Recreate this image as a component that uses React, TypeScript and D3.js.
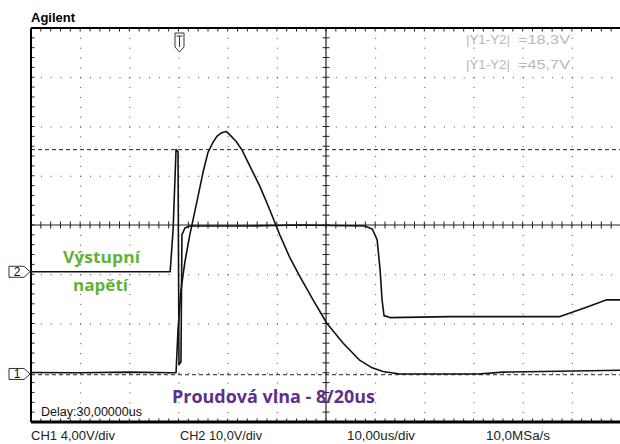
import React from 'react';
import * as d3 from 'd3';

// ---- data read from the screen capture ----
// time in us (10 us/div, delay 30 us), CH1 in V (4 V/div), CH2 in V (10 V/div)
const timeDomain = [-30, 90];
const ch1Domain = [-3.9, 28.1];
const ch2Domain = [-30.5, 49.5];

const ch1Time = [-30, -20, -10, -1.5, -0.5, -0.1, 0.5, 1.3, 2.3, 3.8, 5.0, 6.0, 7.0, 7.8, 8.8, 9.7, 10.5, 11.7, 12.9, 14.5, 16.6, 18.6, 20.6, 22.7, 24.7, 27.4, 30.2, 33.5, 36.9, 39.4, 41.6, 45, 61, 66, 74, 90];
const ch1Volts = [0.12, 0.1, 0.15, 0.1, 0.1, 3.6, 6.8, 9.1, 11.3, 14.1, 16.4, 18.0, 18.8, 19.3, 19.6, 19.7, 19.4, 18.9, 18.2, 16.9, 15.2, 13.3, 11.3, 9.4, 7.9, 6.0, 4.1, 2.5, 1.1, 0.5, 0.2, 0.0, 0.0, 0.15, 0.2, 0.3];

const ch2Time = [-30, -1.7, -1.1, -0.5, -0.1, 0.1, 0.5, 0.7, 1.3, 2.3, 14.5, 24.7, 37.9, 39.4, 40.4, 41.0, 41.4, 41.8, 43.0, 55.2, 77.6, 82.7, 87.1, 90];
const ch2Volts = [0, 0, 8.5, 24.8, 24.4, -18.9, -18.3, 7.5, 8.9, 9.3, 9.3, 9.5, 9.3, 8.7, 6.5, 0.4, -5.7, -8.9, -9.3, -9.1, -9.1, -7.3, -5.7, -5.7];

// cursors on CH2
const cursorY1 = 24.8;
const cursorY2 = -20.9;

const readouts = ['=18,3V', '=45,7V'];
const footer = ['CH1 4,00V/div', 'CH2 10,0V/div', '10,00us/div', '10,0MSa/s'];
const footerX = [31, 180, 347, 486];
const footerW = [84, 82, 68, 64];

const L = 31, T = 28, R = 621, B = 422;

export default function App() {
  const x = d3.scaleLinear().domain(timeDomain).range([L, R]);
  const y1 = d3.scaleLinear().domain(ch1Domain).range([B, T]);
  const y2 = d3.scaleLinear().domain(ch2Domain).range([B, T]);
  const div = d3.scaleLinear().domain([-4, 4]).range([B, T]);
  const dv = (R - L) / 12;
  const dh = (B - T) / 8;

  const line = d3.line<[number, number]>().x(d => d[0]).y(d => d[1]);
  const p1 = line(ch1Time.map((t, i) => [x(t), y1(ch1Volts[i])]));
  const p2 = line(ch2Time.map((t, i) => [x(t), y2(ch2Volts[i])]));

  const xDivs = d3.range(-30, 91, 10);
  const yDivs = d3.range(-4, 5, 1);
  const minorX = d3.range(L, R + 0.1, dv / 5);
  const minorY = d3.range(T, B + 0.1, dh / 5);
  const cx = x(30), cy = div(0);
  const trig = x(0) + 1;

  const dots: JSX.Element[] = [];
  yDivs.slice(1, -1).forEach(d => {
    if (d === 0) return;
    minorX.forEach((mx, i) => dots.push(<rect key={'h' + d + '_' + i} x={mx} y={div(d)} width={1} height={1} fill="#444" />));
  });
  xDivs.slice(1, -1).forEach(t => {
    if (t === 30) return;
    minorY.forEach((my, i) => dots.push(<rect key={'v' + t + '_' + i} x={x(t)} y={my} width={1} height={1} fill="#444" />));
  });

  const marker = (label: string, yy: number) => (
    <g key={label}>
      <path d={`M9,${yy - 5.5}H24L30,${yy}L24,${yy + 5.5}H9Z`} fill="#fff" stroke="#333" strokeWidth={1} />
      <text x={17} y={yy + 4.5} fontSize={12} textAnchor="middle" fontFamily="Liberation Sans, Arial" fill="#111">{label}</text>
    </g>
  );

  return (
    <svg width={620} height={444} style={{ position: 'absolute', left: 0, top: 0, background: '#fff' }}>
      <rect x={0} y={0} width={620} height={444} fill="#fff" />
      <text x={31} y={22} fontSize={13} fontWeight="bold" fontFamily="Liberation Sans, Arial" fill="#000">Agilent</text>

      {dots}

      {/* center axes with ticks */}
      <line x1={cx} x2={cx} y1={T} y2={B} stroke="#222" strokeWidth={1.2} />
      <line x1={L} x2={R} y1={cy} y2={cy} stroke="#222" strokeWidth={1.2} />
      {minorY.map((my, i) => <line key={'cy' + i} x1={cx - 3.5} x2={cx + 3.5} y1={my} y2={my} stroke="#222" />)}
      {minorX.map((mx, i) => <line key={'cx' + i} x1={mx} x2={mx} y1={cy - 3.5} y2={cy + 3.5} stroke="#222" />)}

      {/* border ticks */}
      {minorX.map((mx, i) => <line key={'tt' + i} x1={mx} x2={mx} y1={T} y2={T + 3.5} stroke="#222" />)}
      {minorX.map((mx, i) => <line key={'bt' + i} x1={mx} x2={mx} y1={B} y2={B - 3.5} stroke="#222" />)}
      {minorY.map((my, i) => <line key={'lt' + i} x1={L} x2={L + 3.5} y1={my} y2={my} stroke="#222" />)}

      {/* cursors */}
      <line x1={L} x2={R} y1={y2(cursorY1)} y2={y2(cursorY1)} stroke="#222" strokeDasharray="4 3" />
      <line x1={L} x2={R} y1={y2(cursorY2)} y2={y2(cursorY2)} stroke="#222" strokeDasharray="4 3" />

      {/* border */}
      <line x1={L} x2={620} y1={T} y2={T} stroke="#000" strokeWidth={2} />
      <line x1={L} x2={L} y1={T} y2={B} stroke="#000" strokeWidth={2} />
      <line x1={L} x2={620} y1={B} y2={B} stroke="#000" strokeWidth={3} />

      {/* traces */}
      <path d={p2 || ''} fill="none" stroke="#111" strokeWidth={1.6} strokeLinejoin="round" />
      <path d={p1 || ''} fill="none" stroke="#111" strokeWidth={1.6} strokeLinejoin="round" />

      {/* markers */}
      {marker('2', y2(0))}
      {marker('1', y1(0))}
      <path d={`M${trig - 4.5},33H${trig + 4.5}V47L${trig},52L${trig - 4.5},47Z`} fill="#fff" stroke="#333" />
      <path d={`M${trig - 3},36H${trig + 3}M${trig},36V47`} stroke="#333" fill="none" />

      {/* cursor readouts */}
      {readouts.map((r, i) => (
        <g key={r} fill="#b8b8b8" fontFamily="Liberation Sans, Arial" fontSize={12}>
          <text x={466} y={44 + i * 25} textLength={44} lengthAdjust="spacingAndGlyphs">|Y1-Y2|</text>
          <text x={518} y={44 + i * 25} textLength={52} lengthAdjust="spacingAndGlyphs">{r}</text>
        </g>
      ))}

      <text x={41} y={416} fontSize={12} fontFamily="Liberation Sans, Arial" fill="#111" textLength={101} lengthAdjust="spacingAndGlyphs">Delay:30,00000us</text>

      {footer.map((f, i) => (
        <text key={f} x={footerX[i]} y={440} fontSize={12} fontFamily="Liberation Sans, Arial" fill="#222" textLength={footerW[i]} lengthAdjust="spacingAndGlyphs">{f}</text>
      ))}

      {/* annotations */}
      <g fontFamily="Open Sans, Noto Sans, sans-serif" fontWeight="bold" fill="#62b236" fontSize={16}>
        <text x={63} y={263} textLength={77} lengthAdjust="spacingAndGlyphs">Výstupní</text>
        <text x={73} y={291} textLength={55} lengthAdjust="spacingAndGlyphs">napětí</text>
      </g>
      <text x={172} y={403} fontFamily="Open Sans, Noto Sans, sans-serif" fontWeight="bold" fill="#5e2f8c" fontSize={18} textLength={203} lengthAdjust="spacingAndGlyphs">Proudová vlna - 8/20us</text>
    </svg>
  );
}
